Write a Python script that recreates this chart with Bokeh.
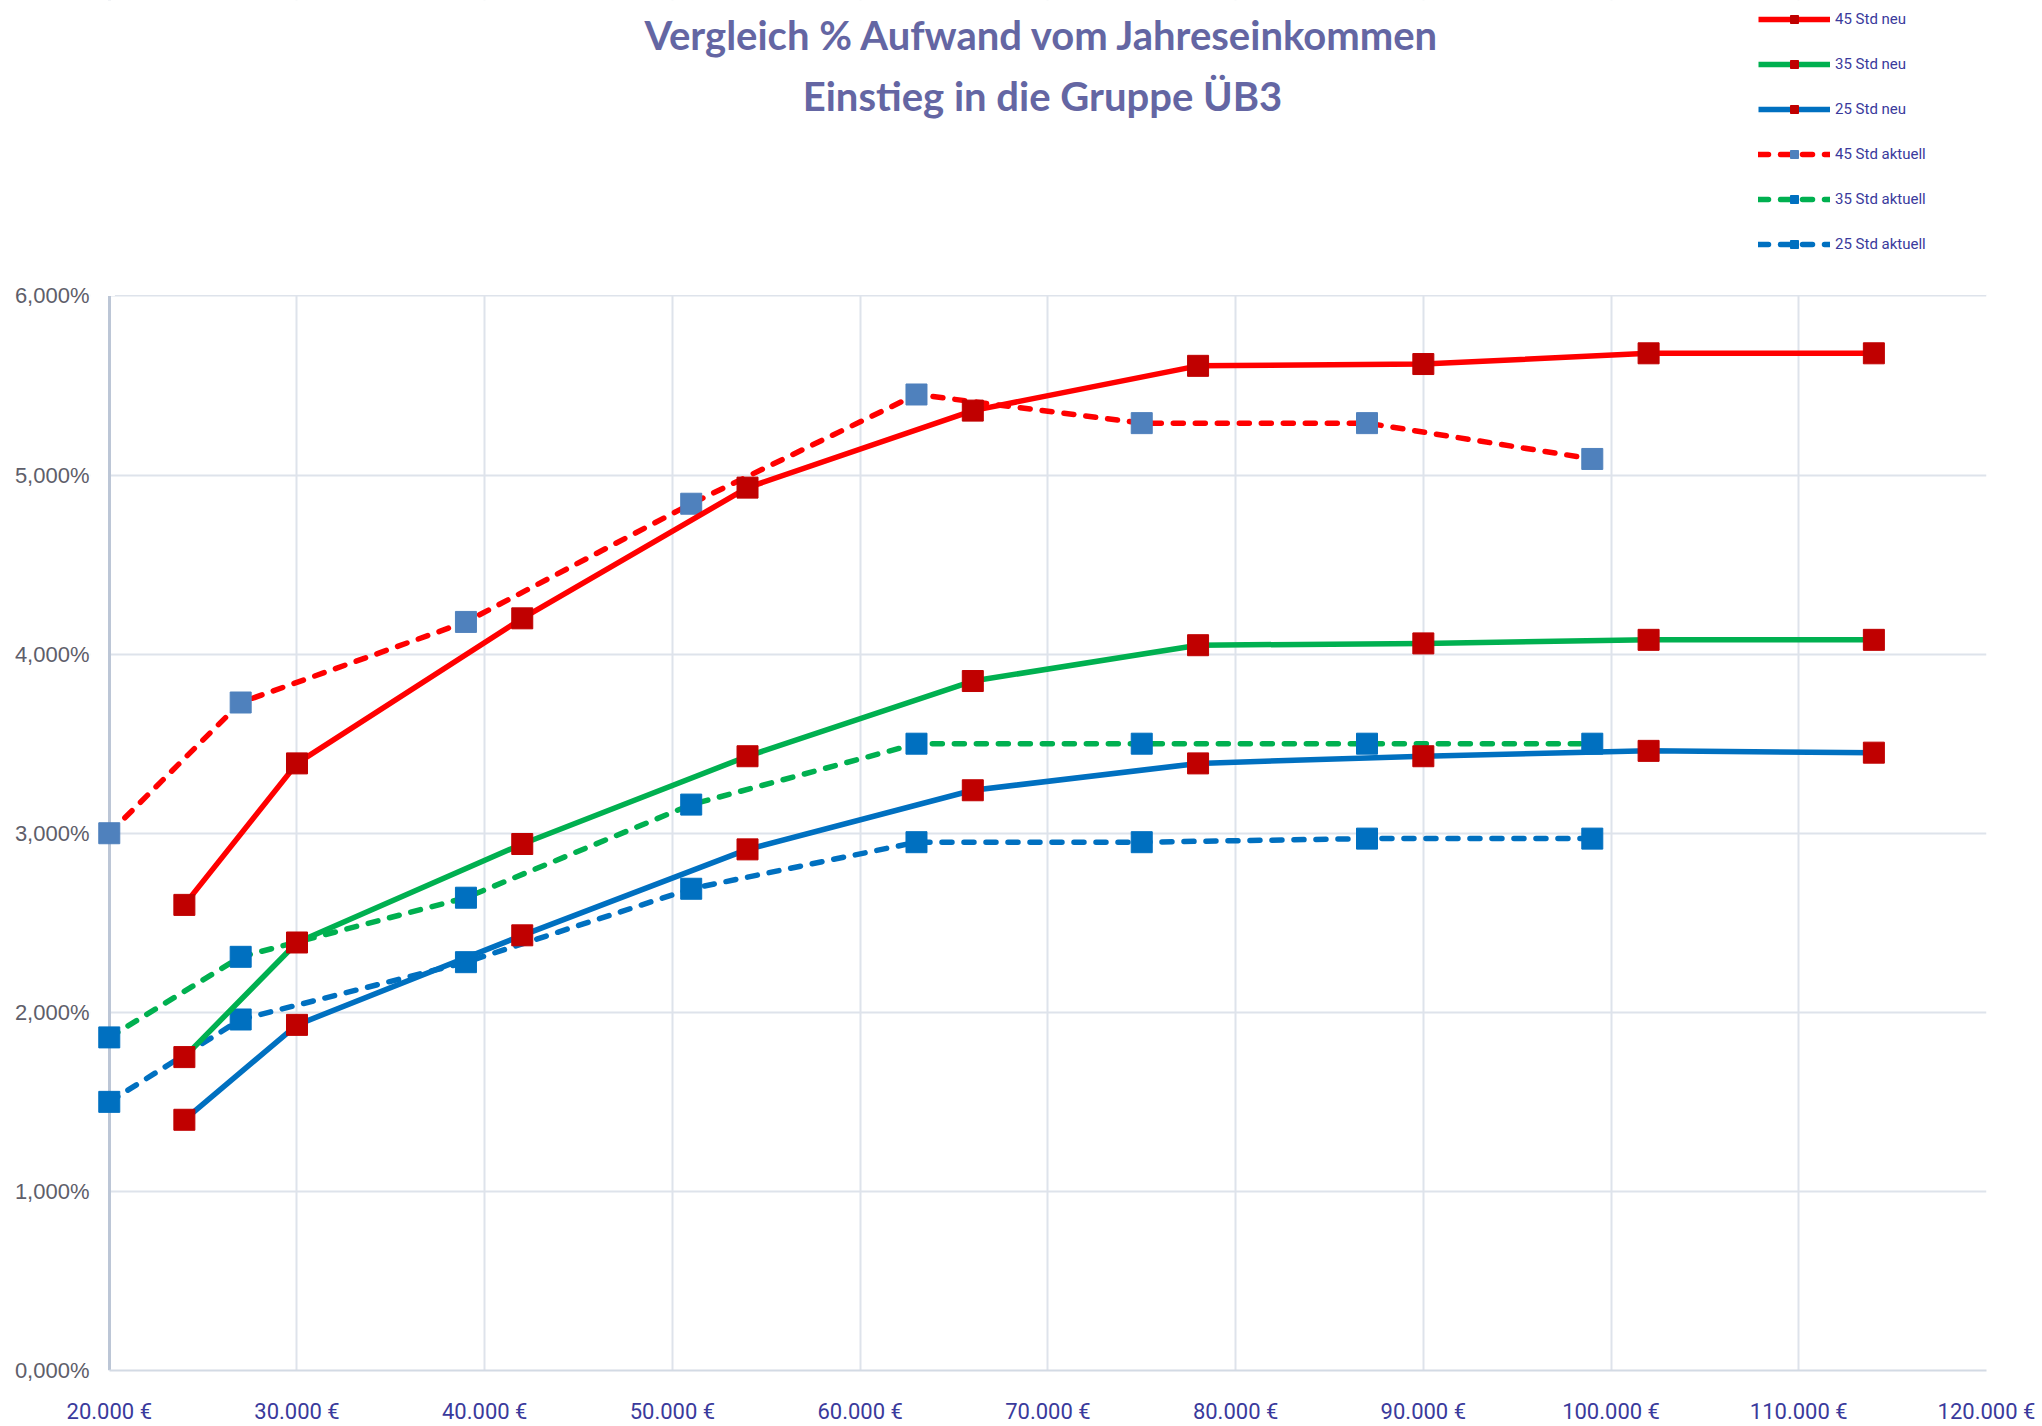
from bokeh.plotting import figure
from bokeh.models import FixedTicker, Label, Legend, LegendItem, Range1d, Grid, BoxAnnotation
from bokeh.embed import file_html
from bokeh.resources import INLINE

# ---------------- data ----------------
title_line1 = "Vergleich % Aufwand vom Jahreseinkommen"
title_line2 = "Einstieg in die Gruppe ÜB3"

x_neu = [24000, 30000, 42000, 54000, 66000, 78000, 90000, 102000, 114000]
y45_neu = [2.60, 3.39, 4.20, 4.93, 5.36, 5.61, 5.62, 5.68, 5.68]
y35_neu = [1.75, 2.39, 2.94, 3.43, 3.85, 4.05, 4.06, 4.08, 4.08]
y25_neu = [1.40, 1.93, 2.43, 2.91, 3.24, 3.39, 3.43, 3.46, 3.45]

x_akt = [20000, 27000, 39000, 51000, 63000, 75000, 87000, 99000]
y45_akt = [3.00, 3.73, 4.18, 4.84, 5.45, 5.29, 5.29, 5.09]
y35_akt = [1.86, 2.31, 2.64, 3.16, 3.50, 3.50, 3.50, 3.50]
y25_akt = [1.50, 1.96, 2.28, 2.69, 2.95, 2.95, 2.97, 2.97]

series_names = ["45 Std neu", "35 Std neu", "25 Std neu",
                "45 Std aktuell", "35 Std aktuell", "25 Std aktuell"]

x_ticks = [20000, 30000, 40000, 50000, 60000, 70000, 80000, 90000, 100000, 110000, 120000]
x_tick_labels = ["20.000 €", "30.000 €", "40.000 €", "50.000 €", "60.000 €", "70.000 €",
                 "80.000 €", "90.000 €", "100.000 €", "110.000 €", "120.000 €"]
y_ticks = [0, 1, 2, 3, 4, 5, 6]
y_tick_labels = ["0,000%", "1,000%", "2,000%", "3,000%", "4,000%", "5,000%", "6,000%"]

# ---------------- styles ----------------
RED, GREEN, BLUE = "#FF0000", "#00B050", "#0070C0"
MK_NEU = "#C00000"
MK_45A = "#4F81BD"
MK_AKT = "#0070C0"
XFONT = "Roboto"
GRID_C = "#DEE3EB"

W, H = 2040, 1426
BORDER_L, BORDER_R, BORDER_B = 90, 54, 49
FRAME_TOP_PX = 297          # where 6 % sits, from the top of the figure
PX_PER_UNIT = 180.0
Y_TOP = 6 + FRAME_TOP_PX / PX_PER_UNIT   # frame reaches the top (room for title/legend)
X_MIN, X_MAX, Y_MAX = 20000, 120000, 6

p = figure(width=W, height=H, output_backend="svg", toolbar_location=None,
           x_range=Range1d(19000, X_MAX), y_range=Range1d(0, Y_TOP),
           min_border_left=BORDER_L, min_border_right=BORDER_R,
           min_border_top=0, min_border_bottom=BORDER_B)
p.outline_line_color = None
p.background_fill_color = "white"

# axes
p.xaxis.ticker = FixedTicker(ticks=x_ticks)
p.xaxis.major_label_overrides = {t: l for t, l in zip(x_ticks, x_tick_labels)}
p.yaxis.ticker = FixedTicker(ticks=y_ticks)
p.yaxis.major_label_overrides = {t: l for t, l in zip(y_ticks, y_tick_labels)}
for ax in (p.xaxis[0], p.yaxis[0]):
    ax.major_tick_line_color = None
    ax.minor_tick_line_color = None
    ax.major_tick_in = 0
    ax.major_tick_out = 0
p.xaxis.bounds = (X_MIN, X_MAX)
p.xaxis.axis_line_color = "#D3DAE4"
p.xaxis.axis_line_width = 2
p.yaxis.axis_line_color = None
p.xaxis.major_label_text_font = XFONT
p.xaxis.major_label_text_font_size = "22px"
p.xaxis.major_label_text_color = "#3A3A9C"
p.xaxis.major_label_standoff = 28
p.yaxis.major_label_text_font = "Liberation Sans"
p.yaxis.major_label_text_font_size = "22px"
p.yaxis.major_label_text_color = "#5E5E6A"
p.yaxis.major_label_standoff = 1

p.xgrid.ticker = FixedTicker(ticks=x_ticks[1:])
p.ygrid.ticker = FixedTicker(ticks=y_ticks[1:])
p.xgrid.grid_line_color = GRID_C
p.ygrid.grid_line_color = GRID_C
p.xgrid.grid_line_width = 2
p.ygrid.grid_line_width = 2

# keep the grid inside the 20.000-120.000 / 0-6 % plot area
p.add_layout(BoxAnnotation(bottom=Y_MAX + 0.006, fill_color="white", fill_alpha=1,
                           line_alpha=0, level="underlay"))
p.add_layout(BoxAnnotation(right=X_MIN, fill_color="white", fill_alpha=1,
                           line_alpha=0, level="underlay"))
# value axis line at 20.000 €
axis_grid = Grid(dimension=0, ticker=FixedTicker(ticks=[X_MIN]),
                 grid_line_color="#BCC6D6", grid_line_width=3)
p.add_layout(axis_grid)
p.add_layout(BoxAnnotation(bottom=Y_MAX, left=19000, right=X_MIN + 300, fill_color="white",
                           fill_alpha=1, line_alpha=0, level="underlay"))

DASH = "10 12"
specs = [
    (x_neu, y45_neu, RED, "solid", MK_NEU),
    (x_neu, y35_neu, GREEN, "solid", MK_NEU),
    (x_neu, y25_neu, BLUE, "solid", MK_NEU),
    (x_akt, y45_akt, RED, DASH, MK_45A),
    (x_akt, y35_akt, GREEN, DASH, MK_AKT),
    (x_akt, y25_akt, BLUE, DASH, MK_AKT),
]
draw_order = [5, 4, 3, 2, 1, 0]
renderers = {}
for i in draw_order:
    xs, ys, col, dash, mk = specs[i]
    ln = p.line(xs, ys, line_color=col, line_width=5.5, line_dash=dash,
                line_cap="round" if dash != "solid" else "butt", line_join="round")
    sc = p.scatter(xs, ys, marker="square", size=21, fill_color=mk, line_color=mk)
    renderers[i] = [ln, sc]

frame_h = H - BORDER_B
items = [LegendItem(label=series_names[i], renderers=renderers[i]) for i in range(6)]
legend = Legend(items=items, location=(1758 - BORDER_L, frame_h - 261), orientation="vertical",
                glyph_width=72, glyph_height=20, label_height=20, spacing=25,
                padding=0, margin=0, label_standoff=5,
                label_text_font=XFONT, label_text_font_size="15px",
                label_text_color="#3A3A9C",
                border_line_alpha=0, background_fill_alpha=0)
p.add_layout(legend, "center")

# titles (screen units relative to frame: x from left, y from bottom)
for txt, top_px in ((title_line1, 41), (title_line2, 102)):
    p.add_layout(Label(x=1042 - BORDER_L, y=frame_h - top_px, x_units="screen", y_units="screen",
                       text=txt, text_align="center", text_baseline="middle",
                       text_font="Lato", text_font_size="40px", text_font_style="bold",
                       text_color="#6466A3"))

open("out.html", "w").write(file_html(p, INLINE))
